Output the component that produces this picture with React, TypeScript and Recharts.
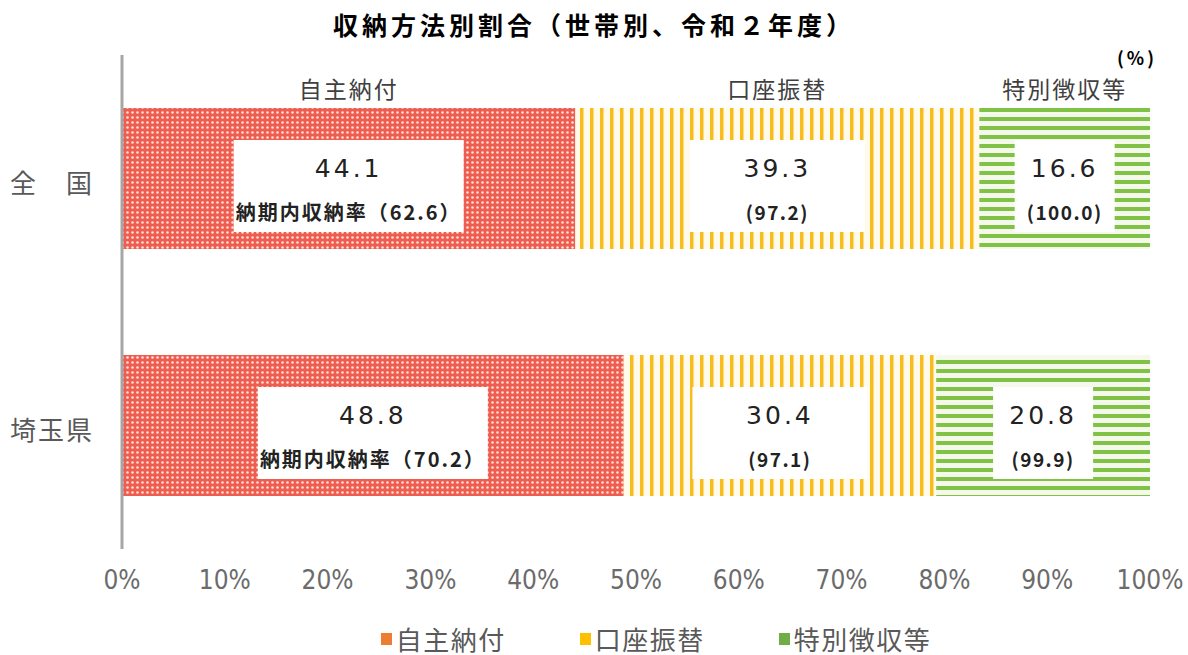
import { BarChart, Bar, XAxis, YAxis, LabelList } from 'recharts'

const regions = ['全　国', '埼玉県']
const seriesNames = ['自主納付', '口座振替', '特別徴収等']
const jishu = [44.1, 48.8]
const koza = [39.3, 30.4]
const tokubetsu = [16.6, 20.8]
const jishuRate = [62.6, 70.2]
const kozaRate = [97.2, 97.1]
const tokubetsuRate = [100.0, 99.9]
const xTicks = [0, 10, 20, 30, 40, 50, 60, 70, 80, 90, 100]

const data = regions.map((name, i) => ({
  name,
  jishu: jishu[i],
  koza: koza[i],
  tokubetsu: tokubetsu[i],
}))

const legendColors = ['#ed7d31', '#ffc000', '#70ad47']
const font = "'Noto Sans CJK JP', 'Noto Sans', sans-serif"

function makeBoxLabel(values: number[], rates: number[], boxWidth: number, withPrefix: boolean, seriesName: string) {
  return (props: any) => {
    const { x, y, width, index } = props
    const cx = x + width / 2
    const top = y + 32
    const rateText = (withPrefix ? '納期内収納率（' : '(') + rates[index].toFixed(1) + (withPrefix ? '）' : ')')
    return (
      <g>
        {index === 0 && (
          <text x={cx} y={y - 10} textAnchor="middle" fontSize={23} fill="#404040" letterSpacing={2} fontFamily={font}>
            {seriesName}
          </text>
        )}
        <rect x={cx - boxWidth / 2} y={top} width={boxWidth} height={92} fill="#fff" />
        <text x={cx} y={top + 37} textAnchor="middle" fontSize={25} fill="#222" letterSpacing={3} fontFamily="'DejaVu Sans', sans-serif">
          {values[index].toFixed(1)}
        </text>
        <text x={cx} y={top + 80} textAnchor="middle" fontSize={withPrefix ? 20 : 19} fontWeight="bold" fill="#222" letterSpacing={withPrefix ? 2 : 1.5} fontFamily={font}>
          {rateText}
        </text>
      </g>
    )
  }
}

function CategoryTick(props: any) {
  const { x, y, payload } = props
  return (
    <text x={x - 20} y={y + 14} textAnchor="end" fontSize={26} fill="#595959" letterSpacing={2} fontFamily={font}>
      {payload.value}
    </text>
  )
}

export default function App() {
  return (
    <div style={{ position: 'absolute', left: 0, top: 0, width: 1188, height: 655, background: '#fff' }}>
      <div style={{ position: 'absolute', top: 6, width: 1188, textAlign: 'center', fontFamily: font, fontWeight: 'bold', fontSize: 25, letterSpacing: 4, color: '#000' }}>
        収納方法別割合（世帯別、令和２年度）
      </div>
      <div style={{ position: 'absolute', top: 44, left: 1117, fontFamily: font, fontWeight: 'bold', fontSize: 18, letterSpacing: 3, color: '#000' }}>
        (%)
      </div>
      <BarChart
        width={1188}
        height={655}
        data={data}
        layout="vertical"
        margin={{ top: 55, right: 38, bottom: 76, left: 0 }}
        barSize={141}
      >
        <defs>
          <pattern id="dots" width={5} height={5} patternUnits="userSpaceOnUse">
            <rect width={5} height={5} fill="#ee5d50" />
            <circle cx={2.5} cy={2.5} r={1.3} fill="#ffe0d8" />
          </pattern>
          <pattern id="vstripes" width={10} height={10} patternUnits="userSpaceOnUse">
            <rect width={10} height={10} fill="#fffaea" />
            <rect x={0} width={3.5} height={10} fill="#f6bd1c" />
          </pattern>
          <pattern id="hstripes" width={9} height={9} patternUnits="userSpaceOnUse">
            <rect width={9} height={9} fill="#f4f9ec" />
            <rect y={0} width={9} height={4} fill="#7fc245" />
          </pattern>
        </defs>
        <XAxis
          type="number"
          domain={[0, 100]}
          ticks={xTicks}
          tickFormatter={(v) => `${v}%`}
          axisLine={false}
          tickLine={false}
          tickMargin={16}
          tick={{ fontSize: 26, fill: '#6b6b6b', fontFamily: "'Liberation Sans Narrow', 'DejaVu Sans Condensed', sans-serif" }}
        />
        <YAxis
          type="category"
          dataKey="name"
          width={122}
          tickLine={false}
          axisLine={{ stroke: '#a6a6a6', strokeWidth: 3 }}
          tick={<CategoryTick />}
        />
        <Bar dataKey="jishu" stackId="a" fill="url(#dots)" isAnimationActive={false}>
          <LabelList dataKey="jishu" content={makeBoxLabel(jishu, jishuRate, 230, true, seriesNames[0])} />
        </Bar>
        <Bar dataKey="koza" stackId="a" fill="url(#vstripes)" isAnimationActive={false}>
          <LabelList dataKey="koza" content={makeBoxLabel(koza, kozaRate, 175, false, seriesNames[1])} />
        </Bar>
        <Bar dataKey="tokubetsu" stackId="a" fill="url(#hstripes)" isAnimationActive={false}>
          <LabelList dataKey="tokubetsu" content={makeBoxLabel(tokubetsu, tokubetsuRate, 100, false, seriesNames[2])} />
        </Bar>
      </BarChart>
      <div style={{ position: 'absolute', top: 620, left: 0, width: 1188, display: 'flex', justifyContent: 'center', gap: 74, fontFamily: font, fontSize: 26, letterSpacing: 1.5, color: '#595959', paddingLeft: 124, boxSizing: 'border-box' }}>
        {seriesNames.map((n, i) => (
          <span key={n} style={{ display: 'flex', alignItems: 'center' }}>
            <span style={{ display: 'inline-block', width: 11, height: 12, background: legendColors[i], marginRight: 4 }} />
            {n}
          </span>
        ))}
      </div>
    </div>
  )
}
